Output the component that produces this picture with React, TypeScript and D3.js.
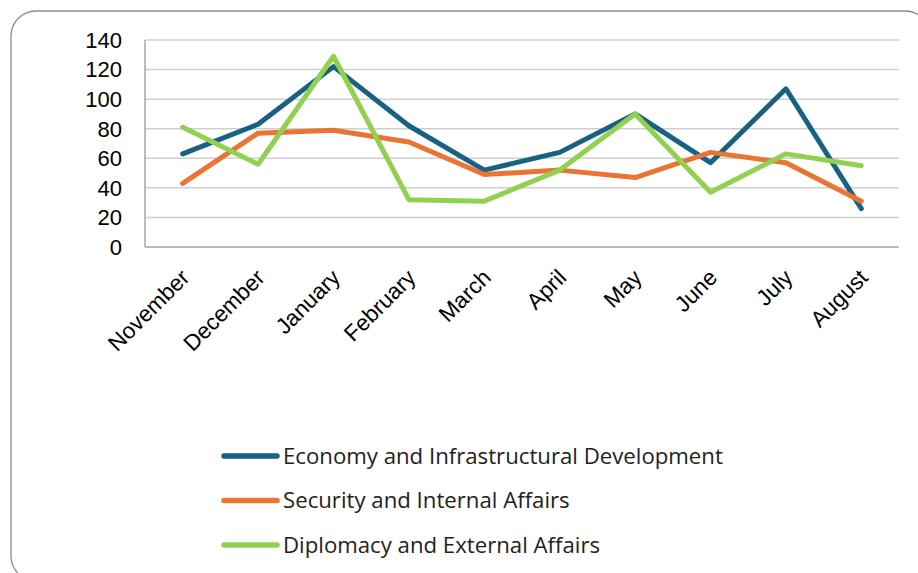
import React from "react";
import * as d3 from "d3";

const months = ["November", "December", "January", "February", "March", "April", "May", "June", "July", "August"];
const economy = [63, 83, 122, 82, 52, 64, 90, 57, 107, 26];
const security = [43, 77, 79, 71, 49, 52, 47, 64, 57, 31];
const diplomacy = [81, 56, 129, 32, 31, 52, 90, 37, 63, 55];
const yTicks = [0, 20, 40, 60, 80, 100, 120, 140];

const seriesNames = [
  "Economy and Infrastructural Development",
  "Security and Internal Affairs",
  "Diplomacy and External Affairs",
];
const seriesColors = ["#196184", "#EA7434", "#92D050"];

export default function App() {
  const W = 918, H = 573;
  const left = 145, right = 899, top = 40, bottom = 247;
  const x = d3.scalePoint<string>().domain(months).range([left, right]).padding(0.5);
  const y = d3.scaleLinear().domain([0, 140]).range([bottom, top]);
  const line = d3.line<number>().x((_, i) => x(months[i]) as number).y((d) => y(d));
  const data = [economy, security, diplomacy];

  return (
    <svg width={W} height={H} style={{ position: "absolute", left: 0, top: 0 }}>
      <rect x={0} y={0} width={W} height={H} fill="#fff" />
      <rect x={11} y={11} width={919} height={570} rx={25} ry={25} fill="#fff" stroke="#8c8c8c" strokeWidth={1.3} />
      {yTicks.map((t) => (
        <line key={t} x1={left} x2={right} y1={y(t)} y2={y(t)} stroke={t === 0 ? "#a6a6a6" : "#cfcfcf"} strokeWidth={1.5} />
      ))}
      <line x1={left} x2={left} y1={top} y2={bottom} stroke="#a6a6a6" strokeWidth={1.5} />
      {yTicks.map((t) => (
        <text key={"l" + t} x={122} y={y(t)} dy="0.36em" textAnchor="end" fontFamily="Liberation Sans, Arial, sans-serif" fontSize={22} fill="#000">
          {t}
        </text>
      ))}
      {months.map((m) => (
        <text
          key={m}
          transform={`translate(${(x(m) as number) + 8},${279}) rotate(-45)`}
          textAnchor="end"
          fontFamily="Liberation Sans, Arial, sans-serif"
          fontSize={22.5}
          fill="#000"
        >
          {m}
        </text>
      ))}
      {data.map((s, i) => (
        <path key={i} d={line(s) as string} fill="none" stroke={seriesColors[i]} strokeWidth={5} strokeLinejoin="round" strokeLinecap="round" />
      ))}
      {seriesNames.map((n, i) => {
        const ly = 456 + i * 44.5;
        return (
          <g key={n}>
            <line x1={224} x2={277} y1={ly} y2={ly} stroke={seriesColors[i]} strokeWidth={5.5} strokeLinecap="round" />
            <text x={283} y={ly} dy="0.35em" fontFamily="Open Sans, Noto Sans, sans-serif" fontSize={22.2} fill="#222">
              {n}
            </text>
          </g>
        );
      })}
    </svg>
  );
}
